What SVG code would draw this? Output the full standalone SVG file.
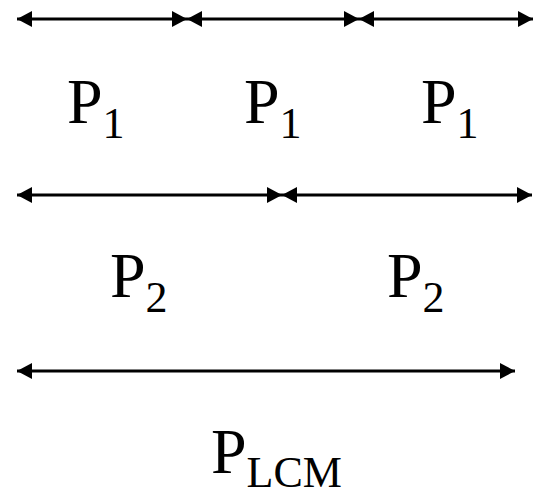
<svg xmlns="http://www.w3.org/2000/svg" width="537" height="491" viewBox="0 0 537 491">
<style>
.ln{stroke:#000;stroke-width:3;fill:none;marker-start:url(#ah);marker-end:url(#ah)}
text,tspan{font-family:"Liberation Serif","Times New Roman","DejaVu Serif",serif;fill:#000}
.lb{font-size:64px}
.sb{font-size:44px}
</style>
<defs>
<marker id="ah" markerUnits="userSpaceOnUse" viewBox="0 0 15 16" refX="15" refY="8" markerWidth="15" markerHeight="16" orient="auto-start-reverse">
<path d="M0,0 L15,8 L0,16 Z" fill="#000"/>
</marker>
</defs>
<rect width="537" height="491" fill="#fff"/>
<g id="connectors">
<line class="ln" x1="17" y1="19" x2="187" y2="19"/>
<line class="ln" x1="187" y1="19" x2="359" y2="19"/>
<line class="ln" x1="359" y1="19" x2="533" y2="19"/>
<line class="ln" x1="17" y1="195" x2="282" y2="195"/>
<line class="ln" x1="282" y1="195" x2="532" y2="195"/>
<line class="ln" x1="17" y1="371" x2="515" y2="371"/>
</g>
<g id="p1a"><text class="lb" font-family="Liberation Serif, serif" x="67" y="123">P<tspan class="sb" dy="15">1</tspan></text></g>
<g id="p1b"><text class="lb" font-family="Liberation Serif, serif" x="244" y="123">P<tspan class="sb" dy="15">1</tspan></text></g>
<g id="p1c"><text class="lb" font-family="Liberation Serif, serif" x="421" y="123">P<tspan class="sb" dy="15">1</tspan></text></g>
<g id="p2a"><text class="lb" font-family="Liberation Serif, serif" x="110" y="297">P<tspan class="sb" dy="15">2</tspan></text></g>
<g id="p2b"><text class="lb" font-family="Liberation Serif, serif" x="387" y="297">P<tspan class="sb" dy="15">2</tspan></text></g>
<g id="plcm"><text class="lb" font-family="Liberation Serif, serif" x="211" y="473">P<tspan class="sb" dy="14">LCM</tspan></text></g>
</svg>
